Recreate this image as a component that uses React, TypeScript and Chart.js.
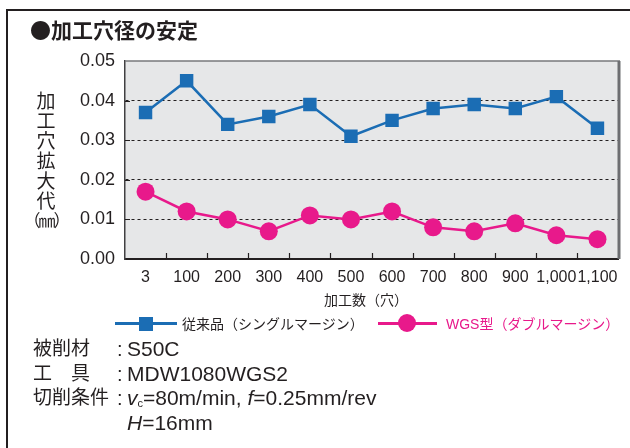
import React, { useEffect, useRef } from "react";
import { Chart, registerables } from "chart.js";

Chart.register(...registerables);

// ---- data ----
const categories = ["3", "100", "200", "300", "400", "500", "600", "700", "800", "900", "1,000", "1,100"];
const conventional = [0.037, 0.045, 0.034, 0.036, 0.039, 0.031, 0.035, 0.038, 0.039, 0.038, 0.041, 0.033];
const wgs = [0.017, 0.012, 0.010, 0.007, 0.011, 0.010, 0.012, 0.008, 0.007, 0.009, 0.006, 0.005];
const yMin = 0;
const yMax = 0.05;
const yStep = 0.01;
const seriesNames = ["従来品（シングルマージン）", "WGS型（ダブルマージン）"];
const chartTitle = "●加工穴径の安定";
const yTitleChars = ["加", "工", "穴", "拡", "大", "代", "（㎜）"];
const xTitle = "加工数（穴）";

const BLUE = "#1b6db4";
const PINK = "#e8198b";
const TEXT = "#231f20";
const FONT = '"Liberation Sans", "Noto Sans CJK JP", sans-serif';
const CJK = '"Noto Sans CJK JP", sans-serif';

const plotDecor = {
  id: "plotDecor",
  beforeDraw(chart: any) {
    const { ctx, chartArea } = chart;
    const { left, top, right, bottom } = chartArea;
    ctx.save();
    ctx.fillStyle = "#e6e7e8";
    ctx.fillRect(left, top, right - left, bottom - top);
    ctx.restore();
  },
  beforeDatasetsDraw(chart: any) {
    const { ctx, chartArea } = chart;
    const { left, top, right, bottom } = chartArea;
    const xs = chart.scales.x;
    const ys = chart.scales.y;
    ctx.save();
    ctx.strokeStyle = "#77787b";
    ctx.lineWidth = 1.5;
    ctx.beginPath();
    ctx.moveTo(left, top);
    ctx.lineTo(right + 2, top);
    ctx.stroke();
    ctx.strokeStyle = "#6d6e71";
    ctx.lineWidth = 3;
    ctx.beginPath();
    ctx.moveTo(right + 1, top);
    ctx.lineTo(right + 1, bottom);
    ctx.stroke();
    ctx.strokeStyle = TEXT;
    ctx.lineWidth = 1.2;
    ctx.beginPath();
    for (let i = 1; i < categories.length; i++) {
      const x = Math.round((xs.getPixelForValue(i - 1) + xs.getPixelForValue(i)) / 2) + 0.5;
      ctx.moveTo(x, bottom);
      ctx.lineTo(x, bottom - 6);
    }
    for (let v = yMin + yStep; v < yMax - 1e-9; v += yStep) {
      const y = Math.round(ys.getPixelForValue(v)) + 0.5;
      ctx.moveTo(left, y);
      ctx.lineTo(left + 5, y);
    }
    ctx.stroke();
    ctx.restore();
  },
};

export default function App() {
  const canvasRef = useRef<HTMLCanvasElement>(null);

  useEffect(() => {
    const chart = new Chart(canvasRef.current as HTMLCanvasElement, {
      type: "line",
      data: {
        labels: categories,
        datasets: [
          {
            label: seriesNames[0],
            data: conventional,
            borderColor: BLUE,
            backgroundColor: BLUE,
            borderWidth: 2.5,
            pointStyle: "rect",
            pointRadius: 9.5,
            pointBorderWidth: 0,
            pointBackgroundColor: BLUE,
            tension: 0,
          },
          {
            label: seriesNames[1],
            data: wgs,
            borderColor: PINK,
            backgroundColor: PINK,
            borderWidth: 2.5,
            pointStyle: "circle",
            pointRadius: 9,
            pointBorderWidth: 0,
            pointBackgroundColor: PINK,
            tension: 0,
          },
        ],
      },
      options: {
        responsive: false,
        animation: false,
        devicePixelRatio: 1,
        layout: { padding: { left: 0, top: 61, right: 12, bottom: 159 } },
        plugins: {
          legend: { display: false },
          tooltip: { enabled: false },
          title: { display: false },
        },
        scales: {
          x: {
            type: "category",
            offset: true,
            grid: { display: false, drawTicks: false },
            border: { display: true, color: TEXT, width: 2 },
            ticks: {
              color: TEXT,
              font: { family: FONT, size: 16 },
              padding: 9,
              maxRotation: 0,
              autoSkip: false,
            },
            afterFit(scale: any) {
              scale.height = 30;
            },
          },
          y: {
            min: yMin,
            max: yMax,
            grid: {
              drawTicks: false,
              lineWidth: 1,
              color: (ctx: any) => {
                const v = ctx.tick ? ctx.tick.value : 0;
                if (Math.abs(v - yMin) < 1e-9 || Math.abs(v - yMax) < 1e-9) return "rgba(0,0,0,0)";
                return TEXT;
              },
            },
            border: { display: true, color: "#414042", width: 1.5, dash: [3, 3] },
            ticks: {
              stepSize: yStep,
              color: TEXT,
              font: { family: FONT, size: 18 },
              padding: 10,
              callback: (v: any) => Number(v).toFixed(2),
            },
            afterFit(scale: any) {
              scale.width = 125;
            },
          },
        },
      },
      plugins: [plotDecor],
    } as any);
    return () => chart.destroy();
  }, []);

  const abs = (s: React.CSSProperties): React.CSSProperties => ({ position: "absolute", whiteSpace: "nowrap", ...s });

  return (
    <div
      style={{
        position: "fixed",
        left: 0,
        top: 0,
        width: 630,
        height: 448,
        background: "#fff",
        overflow: "hidden",
        fontFamily: FONT,
        color: TEXT,
      }}
    >
      <div style={abs({ left: 6, top: 9, width: 640, height: 460, borderLeft: `2px solid ${TEXT}`, borderTop: `2px solid ${TEXT}` })} />
      <canvas ref={canvasRef} width={630} height={448} style={{ position: "absolute", left: 0, top: 0, width: 630, height: 448 }} />
      <div style={abs({ left: 30, top: 14, fontSize: 21, fontWeight: "bold", lineHeight: "30px", fontFamily: CJK })}>{chartTitle}</div>
      {yTitleChars.map((c, i) => (
        <div
          key={i}
          style={abs({
            left: 0,
            width: 92,
            textAlign: "center",
            top: 89 + i * 20,
            fontSize: i === yTitleChars.length - 1 ? 17 : 19,
            letterSpacing: i === yTitleChars.length - 1 ? -2 : 0,
            lineHeight: "22px",
            fontFamily: CJK,
          })}
        >
          {c}
        </div>
      ))}
      <div style={abs({ left: 266, width: 200, textAlign: "center", top: 289, fontSize: 14, lineHeight: "22px" })}>{xTitle}</div>
      <div style={abs({ left: 115, top: 322, width: 62, height: 2.5, background: BLUE })} />
      <div style={abs({ left: 139, top: 317, width: 14, height: 14, background: BLUE })} />
      <div style={abs({ left: 182, top: 313, fontSize: 14, lineHeight: "22px" })}>{seriesNames[0]}</div>
      <div style={abs({ left: 378, top: 322, width: 59, height: 2.5, background: PINK })} />
      <div style={abs({ left: 398, top: 314, width: 18, height: 18, borderRadius: "50%", background: PINK })} />
      <div style={abs({ left: 446, top: 313, fontSize: 14, lineHeight: "22px", color: PINK })}>{seriesNames[1]}</div>
      <div style={abs({ left: 33, top: 337, fontSize: 19, lineHeight: "24px" })}>被削材</div>
      <div style={abs({ left: 33, top: 361.5, fontSize: 19, lineHeight: "24px" })}>工　具</div>
      <div style={abs({ left: 33, top: 386, fontSize: 19, lineHeight: "24px" })}>切削条件</div>
      <div style={abs({ left: 117, top: 337, fontSize: 20, lineHeight: "24px" })}>:</div>
      <div style={abs({ left: 117, top: 361.5, fontSize: 20, lineHeight: "24px" })}>:</div>
      <div style={abs({ left: 117, top: 386, fontSize: 20, lineHeight: "24px" })}>:</div>
      <div style={abs({ left: 127, top: 337, fontSize: 21, lineHeight: "24px" })}>S50C</div>
      <div style={abs({ left: 127, top: 361.5, fontSize: 21, lineHeight: "24px" })}>MDW1080WGS2</div>
      <div style={abs({ left: 127, top: 386, fontSize: 21, lineHeight: "24px" })}>
        <i>v</i>
        <sub style={{ fontSize: 11, verticalAlign: "-2px" }}>c</sub>=80m/min, <i>f</i>=0.25mm/rev
      </div>
      <div style={abs({ left: 127, top: 410.5, fontSize: 21, lineHeight: "24px" })}>
        <i>H</i>=16mm
      </div>
    </div>
  );
}
